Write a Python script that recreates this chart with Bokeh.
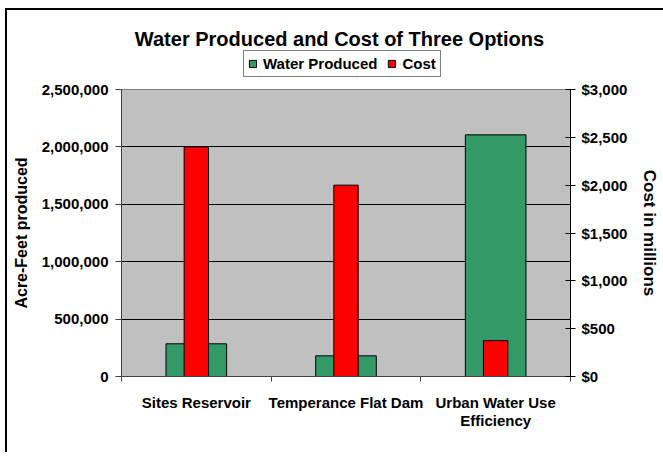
from bokeh.plotting import figure
from bokeh.layouts import column
from bokeh.models import (Range1d, LinearAxis, NumeralTickFormatter, FixedTicker,
                          Legend, LegendItem, Label, ColumnDataSource)
from bokeh.embed import file_html
from bokeh.resources import INLINE

# ---- data ----
categories = ["Sites Reservoir", "Temperance Flat Dam", "Urban Water Use Efficiency"]
tick_labels = ["Sites Reservoir", "Temperance Flat Dam", "Urban Water Use\nEfficiency"]
water_produced = [285000, 180000, 2105000]      # acre-feet
cost_millions = [2400, 2000, 375]               # $ millions
left_ticks = [0, 500000, 1000000, 1500000, 2000000, 2500000]
right_ticks = [0, 500, 1000, 1500, 2000, 2500, 3000]

FONT = "Liberation Sans"
GREEN = "#339966"
RED = "#FF0000"
positions = [i + 1 for i in range(len(categories))]

src = ColumnDataSource(dict(x=positions, water=water_produced, cost=cost_millions,
                            name=categories))

# ---------------- main chart ----------------
p = figure(width=656, height=373, output_backend="svg", toolbar_location=None,
           x_range=Range1d(0.5, 3.5), y_range=Range1d(0, left_ticks[-1]),
           min_border_left=114, min_border_right=93, min_border_top=10,
           min_border_bottom=76)
p.extra_y_ranges = {"cost": Range1d(0, right_ticks[-1])}

p.background_fill_color = "#C0C0C0"
p.border_fill_color = "white"
p.outline_line_color = "#808080"
p.outline_line_width = 1

g = p.vbar(x="x", top="water", width=0.405, bottom=0, source=src,
           fill_color=GREEN, line_color="black", line_width=1)
r = p.vbar(x="x", top="cost", width=0.163, bottom=0, source=src,
           y_range_name="cost", fill_color=RED, line_color="black", line_width=1)

# grid
p.xgrid.visible = False
p.ygrid.ticker = FixedTicker(ticks=left_ticks[1:-1])
p.ygrid.grid_line_color = "black"
p.ygrid.grid_line_width = 1

# x axis
xa = p.xaxis[0]
xa.ticker = FixedTicker(ticks=positions, minor_ticks=[0.5, 1.5, 2.5, 3.5])
xa.major_label_overrides = {pos: lab for pos, lab in zip(positions, tick_labels)}
xa.major_tick_line_color = None
xa.minor_tick_in = 0
xa.minor_tick_out = 5
xa.minor_tick_line_color = "#404040"
xa.axis_line_color = "#404040"
xa.major_label_text_font = FONT
xa.major_label_text_font_style = "bold"
xa.major_label_text_font_size = "15px"
xa.major_label_text_line_height = 1.1
xa.major_label_text_color = "black"
xa.major_label_standoff = 11

# left axis
ya = p.yaxis[0]
ya.ticker = FixedTicker(ticks=left_ticks)
ya.formatter = NumeralTickFormatter(format="0,0")
ya.minor_tick_line_color = None
ya.major_tick_in = 0
ya.major_tick_out = 6
ya.major_tick_line_color = "#404040"
ya.axis_line_color = "#404040"
ya.major_label_text_font = FONT
ya.major_label_text_font_style = "bold"
ya.major_label_text_font_size = "15px"
ya.major_label_text_color = "black"
ya.major_label_standoff = 7
ya.axis_label = "Acre-Feet produced"
ya.axis_label_text_font = FONT
ya.axis_label_text_font_style = "bold"
ya.axis_label_text_font_size = "16px"
ya.axis_label_text_color = "black"
ya.axis_label_standoff = 9

# right axis
ra = LinearAxis(y_range_name="cost", ticker=FixedTicker(ticks=right_ticks),
                formatter=NumeralTickFormatter(format="$0,0"))
ra.minor_tick_line_color = None
ra.major_tick_in = 5
ra.major_tick_out = 5
ra.major_tick_line_color = "black"
ra.axis_line_color = "black"
ra.major_label_text_font = FONT
ra.major_label_text_font_style = "bold"
ra.major_label_text_font_size = "15px"
ra.major_label_text_color = "black"
ra.major_label_standoff = 6
ra.axis_label = "Cost in millions"
ra.axis_label_text_font = FONT
ra.axis_label_text_font_style = "bold"
ra.axis_label_text_font_size = "17px"
ra.axis_label_text_color = "black"
ra.axis_label_standoff = 10
p.add_layout(ra, "right")

# ---------------- header (title + legend) ----------------
t = figure(width=656, height=69, output_backend="svg", toolbar_location=None,
           x_range=Range1d(0, 1), y_range=Range1d(0, 1),
           x_axis_type=None, y_axis_type=None, min_border=0)
t.grid.visible = False
t.outline_line_color = None
t.background_fill_color = "white"
t.border_fill_color = "white"

# legend swatches: same series glyph styles, not drawn in the header itself
lg = t.vbar(x="x", top="water", width=0.405, source=src, visible=False,
            fill_color=GREEN, line_color="black", line_width=1)
lr = t.vbar(x="x", top="cost", width=0.163, source=src, visible=False,
            fill_color=RED, line_color="black", line_width=1)

legend = Legend(items=[LegendItem(label="Water Produced", renderers=[lg]),
                       LegendItem(label="Cost", renderers=[lr])],
                orientation="horizontal", location=(122, 2))
legend.label_text_font = FONT
legend.label_text_font_style = "bold"
legend.label_text_font_size = "15px"
legend.label_text_color = "black"
legend.glyph_width = 9
legend.glyph_height = 9
legend.label_standoff = 6
legend.spacing = 10
legend.padding = 4
legend.margin = 0
legend.border_line_color = "black"
legend.border_line_width = 1
legend.background_fill_color = "white"
legend.background_fill_alpha = 1
t.add_layout(legend, "center")

title = Label(x=218, y=41, x_units="screen", y_units="screen",
              text="Water Produced and Cost of Three Options",
              text_align="center", text_baseline="alphabetic",
              text_font=FONT, text_font_style="bold", text_font_size="20px",
              text_color="black")
t.add_layout(title)

layout = column(t, p, spacing=0,
                styles={"border-left": "2px solid black", "border-top": "2px solid black",
                        "margin-left": "5px", "margin-top": "8px"})

open("out.html", "w").write(file_html(layout, INLINE))
